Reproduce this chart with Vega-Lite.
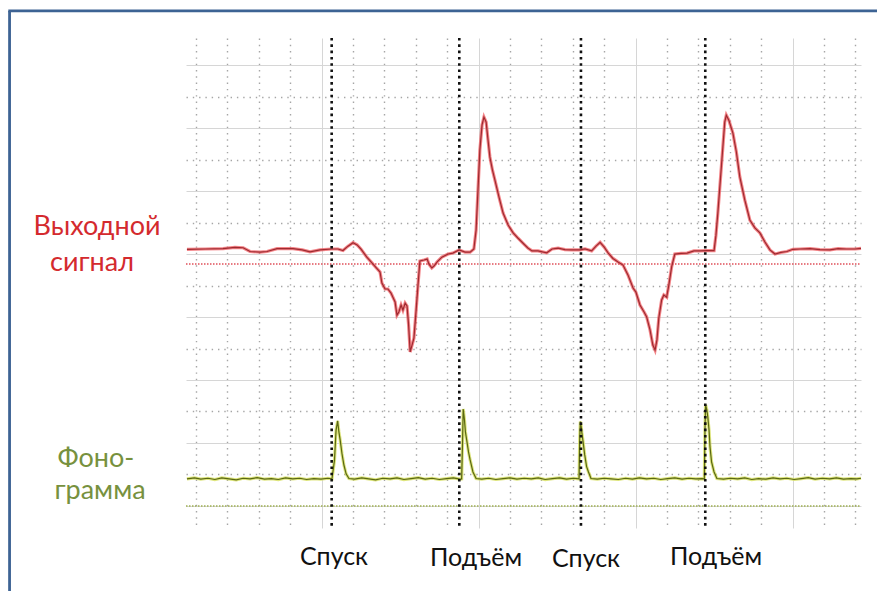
{
  "$schema": "https://vega.github.io/schema/vega-lite/v6.json",
  "width": 675,
  "height": 490,
  "autosize": {"type": "none"},
  "padding": {"left": 186, "top": 38, "right": 16, "bottom": 63},
  "background": "white",
  "config": {
    "view": {"stroke": null},
    "font": "Lato",
    "axis": {"labels": false, "ticks": false, "domain": false, "grid": true}
  },
  "datasets": {
    "signal": [
      {"t": -4.29, "v": 8.15}, {"t": -3.71, "v": 8.16}, {"t": -3.14, "v": 8.17}, {"t": -2.76, "v": 8.21}, {"t": -2.5, "v": 8.2},
      {"t": -2.28, "v": 8.08}, {"t": -1.96, "v": 8.06}, {"t": -1.74, "v": 8.08}, {"t": -1.42, "v": 8.17}, {"t": -0.91, "v": 8.17},
      {"t": -0.62, "v": 8.13}, {"t": -0.37, "v": 8.07}, {"t": -0.05, "v": 8.13}, {"t": 0.32, "v": 8.16}, {"t": 0.52, "v": 8.16},
      {"t": 0.68, "v": 8.11}, {"t": 0.84, "v": 8.25}, {"t": 1.0, "v": 8.36}, {"t": 1.13, "v": 8.29}, {"t": 1.25, "v": 8.16},
      {"t": 1.44, "v": 7.9}, {"t": 1.61, "v": 7.71}, {"t": 1.75, "v": 7.55}, {"t": 1.86, "v": 7.43}, {"t": 1.92, "v": 7.08},
      {"t": 2.02, "v": 6.89}, {"t": 2.11, "v": 6.89}, {"t": 2.21, "v": 6.76}, {"t": 2.27, "v": 6.63}, {"t": 2.34, "v": 6.48},
      {"t": 2.4, "v": 6.06}, {"t": 2.46, "v": 6.16}, {"t": 2.53, "v": 6.38}, {"t": 2.59, "v": 6.22}, {"t": 2.66, "v": 6.44},
      {"t": 2.72, "v": 6.35}, {"t": 2.77, "v": 5.75}, {"t": 2.82, "v": 4.89}, {"t": 2.88, "v": 5.11}, {"t": 2.94, "v": 5.33},
      {"t": 3.01, "v": 6.22}, {"t": 3.07, "v": 7.02}, {"t": 3.13, "v": 7.78}, {"t": 3.26, "v": 7.81}, {"t": 3.36, "v": 7.84},
      {"t": 3.42, "v": 7.68}, {"t": 3.51, "v": 7.56}, {"t": 3.58, "v": 7.62}, {"t": 3.68, "v": 7.75}, {"t": 3.83, "v": 7.9},
      {"t": 4.03, "v": 8.0}, {"t": 4.18, "v": 8.03}, {"t": 4.38, "v": 8.13}, {"t": 4.57, "v": 8.06}, {"t": 4.73, "v": 8.06},
      {"t": 4.85, "v": 8.16}, {"t": 4.92, "v": 8.76}, {"t": 4.98, "v": 10.03}, {"t": 5.04, "v": 11.3}, {"t": 5.11, "v": 12.1},
      {"t": 5.17, "v": 12.35}, {"t": 5.24, "v": 12.19}, {"t": 5.3, "v": 11.62}, {"t": 5.36, "v": 11.08}, {"t": 5.44, "v": 10.67},
      {"t": 5.52, "v": 10.35}, {"t": 5.65, "v": 9.81}, {"t": 5.78, "v": 9.3}, {"t": 5.94, "v": 8.92}, {"t": 6.1, "v": 8.67},
      {"t": 6.25, "v": 8.51}, {"t": 6.41, "v": 8.35}, {"t": 6.57, "v": 8.19}, {"t": 6.7, "v": 8.1}, {"t": 6.89, "v": 8.1},
      {"t": 7.17, "v": 8.04}, {"t": 7.34, "v": 8.16}, {"t": 7.53, "v": 8.19}, {"t": 7.75, "v": 8.14}, {"t": 7.97, "v": 8.13},
      {"t": 8.23, "v": 8.13}, {"t": 8.39, "v": 8.16}, {"t": 8.6, "v": 8.1}, {"t": 8.74, "v": 8.25}, {"t": 8.87, "v": 8.37},
      {"t": 9.0, "v": 8.22}, {"t": 9.13, "v": 8.03}, {"t": 9.28, "v": 7.86}, {"t": 9.44, "v": 7.75}, {"t": 9.6, "v": 7.65},
      {"t": 9.76, "v": 7.33}, {"t": 9.92, "v": 6.92}, {"t": 10.01, "v": 6.79}, {"t": 10.14, "v": 6.38}, {"t": 10.27, "v": 6.16},
      {"t": 10.35, "v": 6.01}, {"t": 10.46, "v": 5.59}, {"t": 10.55, "v": 5.11}, {"t": 10.62, "v": 4.95}, {"t": 10.68, "v": 5.27},
      {"t": 10.74, "v": 5.97}, {"t": 10.83, "v": 6.54}, {"t": 10.9, "v": 6.7}, {"t": 10.99, "v": 6.63}, {"t": 11.06, "v": 7.02},
      {"t": 11.15, "v": 7.6}, {"t": 11.25, "v": 8.0}, {"t": 11.45, "v": 8.02}, {"t": 11.64, "v": 8.03}, {"t": 11.86, "v": 8.1},
      {"t": 12.05, "v": 8.1}, {"t": 12.27, "v": 8.11}, {"t": 12.5, "v": 8.11}, {"t": 12.56, "v": 8.6}, {"t": 12.62, "v": 9.3},
      {"t": 12.7, "v": 10.35}, {"t": 12.78, "v": 11.4}, {"t": 12.84, "v": 12.19}, {"t": 12.89, "v": 12.41}, {"t": 12.97, "v": 12.25},
      {"t": 13.1, "v": 11.84}, {"t": 13.21, "v": 11.24}, {"t": 13.32, "v": 10.45}, {"t": 13.48, "v": 9.71}, {"t": 13.64, "v": 9.08},
      {"t": 13.8, "v": 8.83}, {"t": 13.96, "v": 8.67}, {"t": 14.12, "v": 8.38}, {"t": 14.28, "v": 8.13}, {"t": 14.44, "v": 8.0},
      {"t": 14.63, "v": 8.05}, {"t": 14.82, "v": 8.08}, {"t": 15.01, "v": 8.15}, {"t": 15.24, "v": 8.16}, {"t": 15.56, "v": 8.17},
      {"t": 15.87, "v": 8.14}, {"t": 16.19, "v": 8.13}, {"t": 16.45, "v": 8.17}, {"t": 16.72, "v": 8.16}, {"t": 16.99, "v": 8.16},
      {"t": 17.18, "v": 8.18}
    ],
    "phono": [
      {"t": -4.29, "v": 0.86}, {"t": -4.05, "v": 0.89}, {"t": -3.85, "v": 0.85}, {"t": -3.62, "v": 0.88}, {"t": -3.4, "v": 0.84},
      {"t": -3.18, "v": 0.89}, {"t": -2.95, "v": 0.86}, {"t": -2.72, "v": 0.83}, {"t": -2.5, "v": 0.88}, {"t": -2.28, "v": 0.86},
      {"t": -2.05, "v": 0.9}, {"t": -1.82, "v": 0.85}, {"t": -1.6, "v": 0.87}, {"t": -1.38, "v": 0.84}, {"t": -1.15, "v": 0.89},
      {"t": -0.92, "v": 0.86}, {"t": -0.7, "v": 0.88}, {"t": -0.48, "v": 0.84}, {"t": -0.25, "v": 0.87}, {"t": -0.02, "v": 0.85},
      {"t": 0.2, "v": 0.88}, {"t": 0.33, "v": 0.86},
      {"t": 0.41, "v": 1.46}, {"t": 0.46, "v": 2.41}, {"t": 0.51, "v": 2.7}, {"t": 0.55, "v": 2.35}, {"t": 0.59, "v": 2.1},
      {"t": 0.65, "v": 1.65}, {"t": 0.71, "v": 1.3}, {"t": 0.78, "v": 1.02}, {"t": 0.87, "v": 0.87},
      {"t": 1.05, "v": 0.85}, {"t": 1.28, "v": 0.89}, {"t": 1.5, "v": 0.86}, {"t": 1.72, "v": 0.83}, {"t": 1.95, "v": 0.88},
      {"t": 2.18, "v": 0.86}, {"t": 2.4, "v": 0.89}, {"t": 2.62, "v": 0.84}, {"t": 2.85, "v": 0.87}, {"t": 3.08, "v": 0.9},
      {"t": 3.3, "v": 0.85}, {"t": 3.52, "v": 0.88}, {"t": 3.75, "v": 0.84}, {"t": 3.98, "v": 0.87}, {"t": 4.2, "v": 0.89},
      {"t": 4.4, "v": 0.85}, {"t": 4.46, "v": 0.86},
      {"t": 4.49, "v": 2.1}, {"t": 4.51, "v": 3.08}, {"t": 4.55, "v": 2.73}, {"t": 4.58, "v": 2.35}, {"t": 4.62, "v": 2.1},
      {"t": 4.68, "v": 1.71}, {"t": 4.73, "v": 1.46}, {"t": 4.82, "v": 1.08}, {"t": 4.92, "v": 0.87},
      {"t": 5.1, "v": 0.85}, {"t": 5.32, "v": 0.88}, {"t": 5.55, "v": 0.84}, {"t": 5.78, "v": 0.87}, {"t": 6.0, "v": 0.89},
      {"t": 6.22, "v": 0.85}, {"t": 6.45, "v": 0.88}, {"t": 6.68, "v": 0.86}, {"t": 6.9, "v": 0.89}, {"t": 7.12, "v": 0.84},
      {"t": 7.35, "v": 0.87}, {"t": 7.58, "v": 0.89}, {"t": 7.8, "v": 0.85}, {"t": 8.02, "v": 0.88}, {"t": 8.2, "v": 0.86},
      {"t": 8.22, "v": 2.1}, {"t": 8.24, "v": 2.68}, {"t": 8.27, "v": 2.51}, {"t": 8.29, "v": 2.32}, {"t": 8.32, "v": 2.1},
      {"t": 8.38, "v": 1.62}, {"t": 8.44, "v": 1.25}, {"t": 8.5, "v": 1.08}, {"t": 8.58, "v": 0.87},
      {"t": 8.78, "v": 0.85}, {"t": 9.0, "v": 0.88}, {"t": 9.22, "v": 0.86}, {"t": 9.45, "v": 0.84}, {"t": 9.68, "v": 0.88},
      {"t": 9.9, "v": 0.85}, {"t": 10.12, "v": 0.89}, {"t": 10.35, "v": 0.86}, {"t": 10.58, "v": 0.88}, {"t": 10.8, "v": 0.84},
      {"t": 11.02, "v": 0.87}, {"t": 11.25, "v": 0.89}, {"t": 11.48, "v": 0.85}, {"t": 11.7, "v": 0.88}, {"t": 11.92, "v": 0.86},
      {"t": 12.12, "v": 0.87}, {"t": 12.19, "v": 0.86},
      {"t": 12.21, "v": 2.41}, {"t": 12.23, "v": 3.21}, {"t": 12.27, "v": 3.05}, {"t": 12.3, "v": 2.83}, {"t": 12.34, "v": 2.41},
      {"t": 12.37, "v": 1.88}, {"t": 12.42, "v": 1.4}, {"t": 12.5, "v": 1.08}, {"t": 12.59, "v": 0.87},
      {"t": 12.8, "v": 0.85}, {"t": 13.02, "v": 0.88}, {"t": 13.25, "v": 0.86}, {"t": 13.48, "v": 0.89}, {"t": 13.7, "v": 0.84},
      {"t": 13.92, "v": 0.87}, {"t": 14.15, "v": 0.85}, {"t": 14.38, "v": 0.89}, {"t": 14.6, "v": 0.86}, {"t": 14.82, "v": 0.88},
      {"t": 15.05, "v": 0.84}, {"t": 15.28, "v": 0.87}, {"t": 15.5, "v": 0.9}, {"t": 15.72, "v": 0.85}, {"t": 15.95, "v": 0.88},
      {"t": 16.18, "v": 0.86}, {"t": 16.4, "v": 0.89}, {"t": 16.62, "v": 0.85}, {"t": 16.85, "v": 0.87}, {"t": 17.05, "v": 0.86},
      {"t": 17.18, "v": 0.88}
    ],
    "events": [
      {"t": 0.32, "event": "Спуск"}, {"t": 4.385, "event": "Подъём"}, {"t": 8.26, "event": "Спуск"}, {"t": 12.22, "event": "Подъём"}
    ],
    "eventLabels": [
      {"t": 0.394, "v": -1.86, "text": "Спуск"},
      {"t": 4.917, "v": -1.9, "text": "Подъём"},
      {"t": 8.421, "v": -1.93, "text": "Спуск"},
      {"t": 12.562, "v": -1.86, "text": "Подъём"}
    ],
    "channelLabels": [
      {"t": -7.155, "v": 8.606, "text": "Выходной", "channel": "signal"},
      {"t": -7.314, "v": 7.463, "text": "сигнал", "channel": "signal"},
      {"t": -7.187, "v": 1.241, "text": "Фоно-", "channel": "phono"},
      {"t": -7.059, "v": 0.225, "text": "грамма", "channel": "phono"}
    ],
    "refs": [
      {"v": 7.683, "channel": "signal"},
      {"v": 0, "channel": "phono"}
    ]
  },
  "layer": [
    {
      "data": {"name": "signal"},
      "mark": {"type": "line", "color": "#ef5c62", "strokeWidth": 3.2, "opacity": 0.75},
      "encoding": {
        "x": {"field": "t", "type": "quantitative", "title": null,
          "scale": {"domain": [-4.32, 17.18], "nice": false, "zero": false},
          "axis": {
            "values": [-4, -3, -2, -1, 0, 1, 2, 3, 4, 5, 6, 7, 8, 9, 10, 11, 12, 13, 14, 15, 16, 17],
            "tickCount": 100,
            "grid": true, "domain": false, "ticks": false, "labels": false, "title": null,
            "gridColor": {"condition": {"test": "datum.value % 5 === 0", "value": "#d6d6d6"}, "value": "#a6a6a6"},
            "gridDash": {"condition": {"test": "datum.value % 5 === 0", "value": []}, "value": [1.4, 4.9]},
            "gridWidth": {"condition": {"test": "datum.value % 5 === 0", "value": 1}, "value": 1.4}
          }},
        "y": {"field": "v", "type": "quantitative", "title": null,
          "scale": {"domain": [-0.7, 14.86], "nice": false, "zero": false},
          "axis": {
            "values": [0, 1, 2, 3, 4, 5, 6, 7, 8, 9, 10, 11, 12, 13, 14],
            "tickCount": 100,
            "grid": true, "domain": false, "ticks": false, "labels": false, "title": null,
            "gridColor": {"condition": {"test": "datum.value % 2 === 0", "value": "#d6d6d6"}, "value": "#a6a6a6"},
            "gridDash": {"condition": {"test": "datum.value % 2 === 0", "value": []}, "value": [1.4, 4.9]},
            "gridWidth": {"condition": {"test": "datum.value % 2 === 0", "value": 1}, "value": 1.4}
          }}
      }
    },
    {
      "data": {"name": "refs"},
      "mark": {"type": "rule", "strokeWidth": 1.6, "strokeDash": [1.5, 1.5]},
      "encoding": {
        "x": {"datum": -4.32, "type": "quantitative"},
        "x2": {"datum": 17.18},
        "y": {"field": "v", "type": "quantitative", "title": null},
        "color": {"field": "channel", "type": "nominal", "scale": {"domain": ["signal", "phono"], "range": ["#e0505a", "#9fb050"]}, "legend": null}
      }
    },
    {
      "data": {"name": "signal"},
      "mark": {"type": "line", "color": "#9e2a30", "strokeWidth": 1.2},
      "encoding": {
        "x": {"field": "t", "type": "quantitative", "title": null},
        "y": {"field": "v", "type": "quantitative", "title": null}
      }
    },
    {
      "data": {"name": "phono"},
      "mark": {"type": "line", "color": "#d6de5e", "strokeWidth": 3.2, "opacity": 0.8},
      "encoding": {
        "x": {"field": "t", "type": "quantitative", "title": null},
        "y": {"field": "v", "type": "quantitative", "title": null}
      }
    },
    {
      "data": {"name": "phono"},
      "mark": {"type": "line", "color": "#5a6812", "strokeWidth": 1.2},
      "encoding": {
        "x": {"field": "t", "type": "quantitative", "title": null},
        "y": {"field": "v", "type": "quantitative", "title": null}
      }
    },
    {
      "data": {"name": "events"},
      "mark": {"type": "rule", "color": "#111111", "strokeWidth": 2.6, "strokeDash": [2.6, 3.7]},
      "encoding": {
        "x": {"field": "t", "type": "quantitative", "title": null}
      }
    },
    {
      "data": {"name": "eventLabels"},
      "mark": {"type": "text", "fontSize": 25, "color": "#111111", "baseline": "alphabetic", "align": "center"},
      "encoding": {
        "x": {"field": "t", "type": "quantitative", "title": null},
        "y": {"field": "v", "type": "quantitative", "title": null},
        "text": {"field": "text"}
      }
    },
    {
      "data": {"name": "channelLabels"},
      "mark": {"type": "text", "fontSize": 27, "baseline": "alphabetic", "align": "center"},
      "encoding": {
        "x": {"field": "t", "type": "quantitative", "title": null},
        "y": {"field": "v", "type": "quantitative", "title": null},
        "text": {"field": "text"},
        "color": {"field": "channel", "type": "nominal", "scale": {"domain": ["signal", "phono"], "range": ["#d42a2e", "#77913e"]}, "legend": null}
      }
    },
    {
      "data": {"values": [{}]},
      "mark": {"type": "rule", "color": "#3d6394", "strokeWidth": 2.8},
      "encoding": {
        "x": {"datum": -9.94, "type": "quantitative"},
        "y": {"datum": 15.72, "type": "quantitative"},
        "y2": {"datum": -3}
      }
    },
    {
      "data": {"values": [{}]},
      "mark": {"type": "rule", "color": "#3d6394", "strokeWidth": 2.8},
      "encoding": {
        "x": {"datum": -9.98, "type": "quantitative"},
        "x2": {"datum": 18},
        "y": {"datum": 15.72, "type": "quantitative"}
      }
    }
  ],
  "resolve": {"scale": {"color": "independent"}}
}
